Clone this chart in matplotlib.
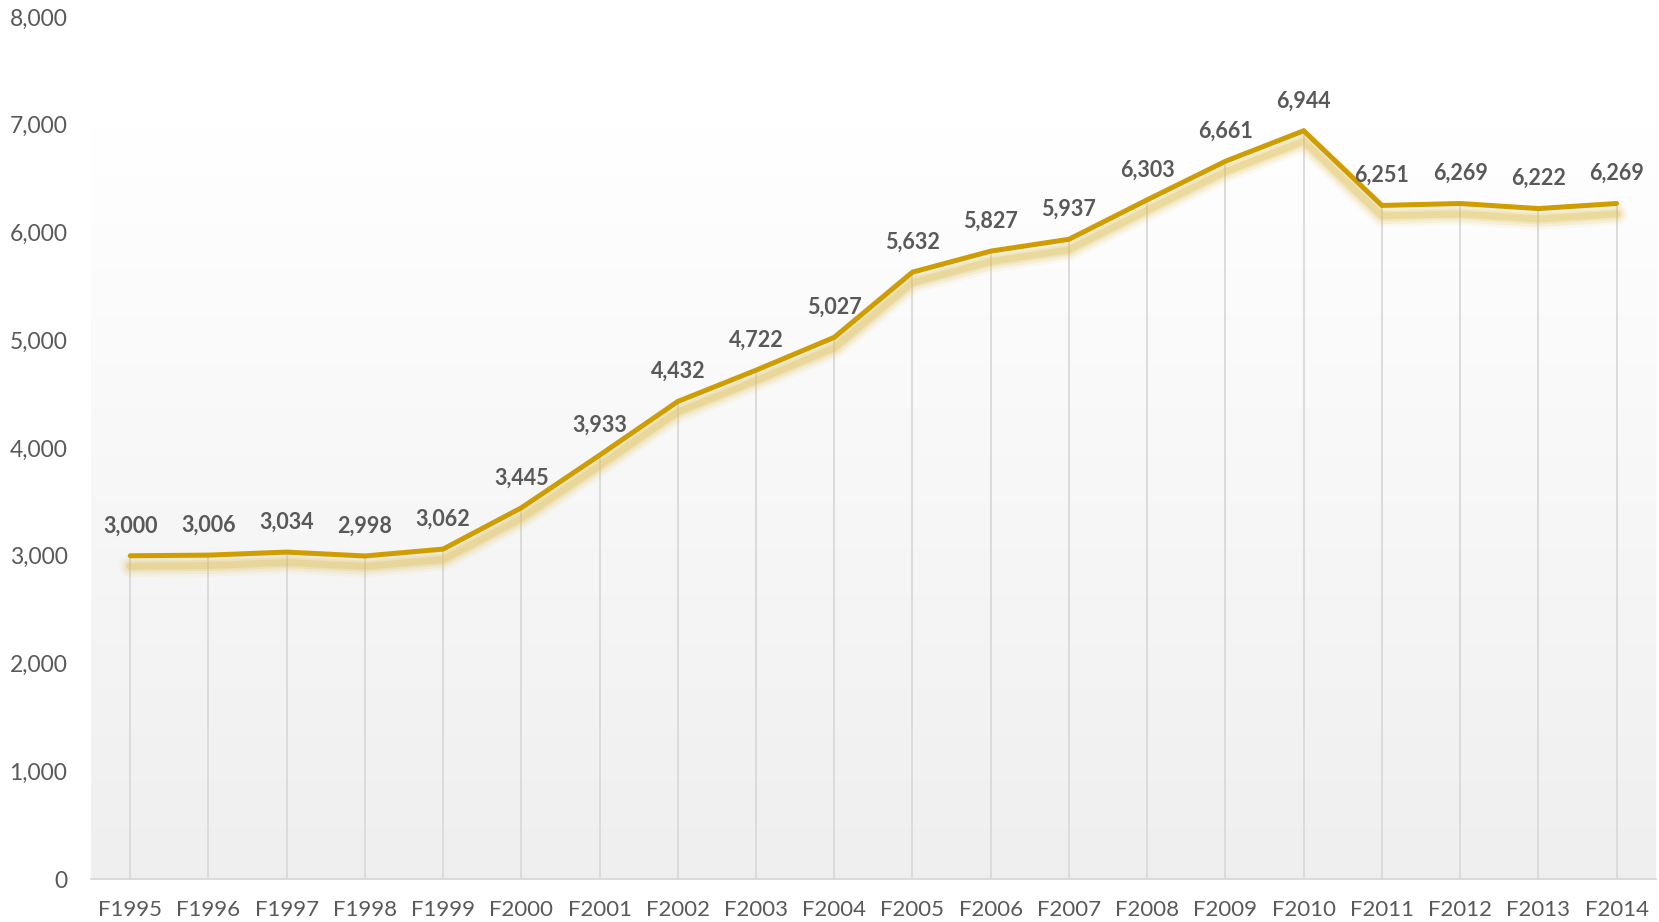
"""
Line chart of yearly totals, F1995 - F2014
"""

import numpy as np
import matplotlib.pyplot as plt
import matplotlib.transforms as mtransforms
from matplotlib.ticker import FuncFormatter

# data
years = ["F1995", "F1996", "F1997", "F1998", "F1999", "F2000", "F2001",
         "F2002", "F2003", "F2004", "F2005", "F2006", "F2007", "F2008",
         "F2009", "F2010", "F2011", "F2012", "F2013", "F2014"]
values = [3000, 3006, 3034, 2998, 3062, 3445, 3933, 4432, 4722, 5027,
          5632, 5827, 5937, 6303, 6661, 6944, 6251, 6269, 6222, 6269]

plt.rcParams['font.family'] = ['Lato', 'DejaVu Sans']
textColor = '#595959'
lineColor = '#CF9D00'

# sets up plot
fig = plt.figure(figsize=(16.59, 9.22), dpi=100)
ax = fig.add_axes([0.0549, 0.0466, 0.9431, 0.935])
ax.set_facecolor('none')
x = np.arange(len(years))

# background gradient, white at top to light grey at bottom
grad = np.linspace(1.0, 0.0, 256).reshape(-1, 1)
top = np.array([1.0, 1.0, 1.0]); bottom = np.array([0.937, 0.937, 0.937])
img = bottom + grad[..., None] * (top - bottom)
ax.imshow(img, extent=(-0.5, len(years) - 0.5, 0, 6960), aspect='auto',
          zorder=0, interpolation='bicubic')

# drop lines
ax.vlines(x, 0, values, color='#d9d9d9', lw=1.3, zorder=1)

# soft glow under the line
for w, a in [(16, 0.07), (12, 0.12), (8, 0.18), (5, 0.28)]:
    off = mtransforms.offset_copy(ax.transData, fig=fig, x=0, y=-7.5, units='points')
    ax.plot(x, values, color='#DDBB45', lw=w, alpha=a, transform=off,
            solid_capstyle='round', solid_joinstyle='round', zorder=2)

ax.plot(x, values, color=lineColor, lw=3.6, solid_capstyle='round',
        solid_joinstyle='miter', zorder=3)

# data labels
for xi, v in zip(x, values):
    ax.annotate(f"{v:,}", (xi, v), xytext=(0, 14), textcoords='offset points',
                ha='center', va='bottom', fontsize=15.5, fontweight='bold',
                color=textColor, zorder=4)

# axes
ax.set_xlim(-0.5, len(years) - 0.5)
ax.set_ylim(0, 8000)
ax.set_yticks(range(0, 8001, 1000))
ax.yaxis.set_major_formatter(FuncFormatter(lambda v, p: f"{int(v):,}"))
ax.set_xticks(x)
ax.set_xticklabels(years)
ax.tick_params(axis='y', length=0, pad=17, labelsize=16.5, labelcolor=textColor)
ax.tick_params(axis='x', length=0, pad=15, labelsize=16, labelcolor=textColor)
for s in ['top', 'right', 'left']:
    ax.spines[s].set_visible(False)
ax.spines['bottom'].set_color('#d9d9d9')
ax.spines['bottom'].set_linewidth(1.3)

fig.savefig('out.png', dpi=100, facecolor='white')
